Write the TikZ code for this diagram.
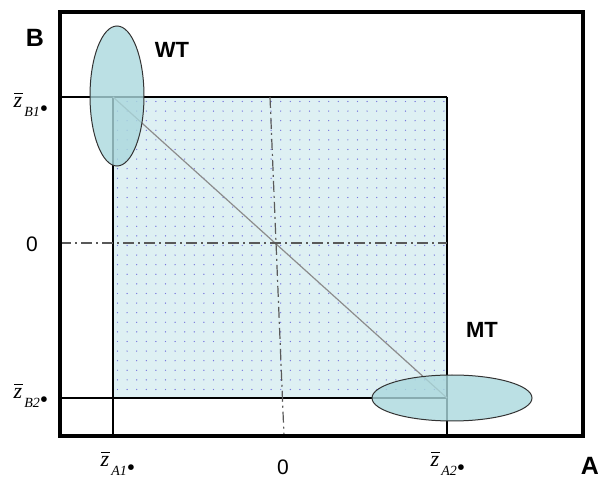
\documentclass[tikz,border=0pt]{standalone}
\usepackage{fontspec}
\setmainfont{Liberation Sans}
\newfontfamily\zserif{Liberation Serif}
\usetikzlibrary{shapes.geometric}
\definecolor{ellcol}{RGB}{170,216,221}
\definecolor{rectcol}{RGB}{222,240,243}
\definecolor{dotcol}{RGB}{120,120,220}
\newcommand{\zlab}[1]{{\zserif\fontsize{22}{24}\selectfont\itshape\makebox[0pt][l]{\hspace*{0.02em}\raisebox{0.62em}{\rule{0.42em}{0.05em}}}z\hspace{0.1em}\raisebox{-0.4em}{\fontsize{14}{15}\selectfont #1\upshape\scalebox{1.7}{\textbullet}}}}
\begin{document}
\begin{tikzpicture}[x=1pt,y=-1pt,
  thinline/.style={line width=1.3pt,black},
  dashdot/.style={line width=1.2pt,draw=black!65,dash pattern=on 11pt off 4pt on 2pt off 4pt},
  ellfill/.style={draw=black!80,line width=1pt,fill=ellcol,fill opacity=0.8},
  biglabel/.style={font=\fontsize{25}{27}\selectfont\bfseries},
  midlabel/.style={font=\fontsize{22}{24}\selectfont\bfseries},
  zlabel/.style={inner sep=0pt},
  numlabel/.style={font=\fontsize{21}{23}\selectfont}]
\useasboundingbox (0,0) rectangle (598,478);
% inner shaded rectangle
\fill[rectcol] (113,97) rectangle (447,398);
\foreach \i in {0,...,34}{
  \foreach \j in {0,...,30}{
    \fill[dotcol] (117.5+9.6*\i,101.5+9.6*\j) circle (0.7pt);
  }
}
% grid lines
\draw[thinline] (60,97) -- (447,97);
\draw[thinline] (60,398) -- (447,398);
\draw[thinline] (113,97) -- (113,436);
\draw[thinline] (447,97) -- (447,436);
% diagonal
\draw[line width=1.2pt,draw=black!45] (113,97) -- (447,398);
% dash-dot axes
\draw[dashdot] (60,243) -- (447,243);
\draw[dashdot] (270,97) -- (284,436);
% ellipses
\node[ellfill,ellipse,draw,minimum width=54pt,minimum height=140pt,inner sep=0pt] (wt) at (117,96) {};
\node[ellfill,ellipse,draw,minimum width=160pt,minimum height=46pt,inner sep=0pt] (mt) at (452,398) {};
% outer frame
\draw[line width=4pt,line join=miter] (60,12) rectangle (583,436);
% labels
\node[biglabel] (B) at (35,38) {B};
\node[biglabel] (A) at (590,466) {A};
\node[midlabel] (WTl) at (172,50) {WT};
\node[midlabel] (MTl) at (482,330) {MT};
\node[numlabel] (zeroB) at (32,244) {0};
\node[numlabel] (zeroA) at (283,467) {0};
\node[zlabel] (zB1) at (31,105) {\zlab{B1}};
\node[zlabel] (zB2) at (31,396) {\zlab{B2}};
\node[zlabel] (zA1) at (118,464) {\zlab{A1}};
\node[zlabel] (zA2) at (448,464) {\zlab{A2}};
\end{tikzpicture}
\end{document}
